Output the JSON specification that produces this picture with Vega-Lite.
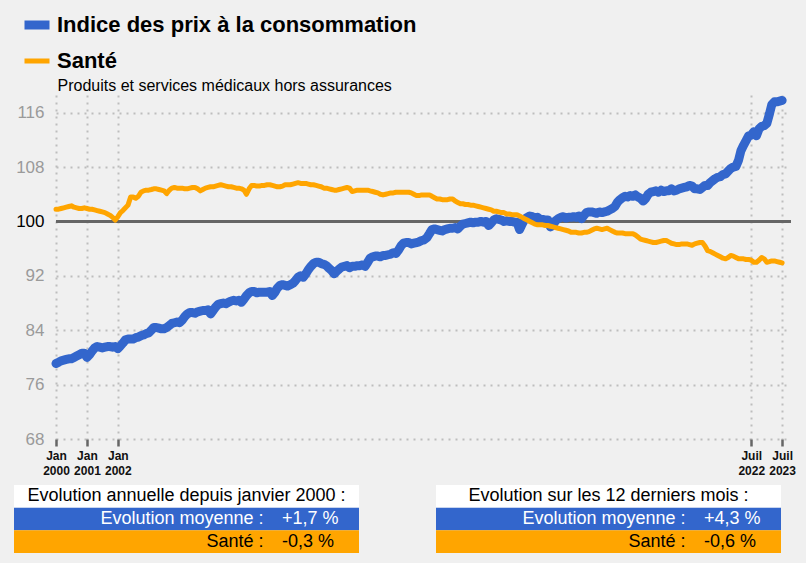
{
"$schema": "https://vega.github.io/schema/vega-lite/v6.json",
"background": "#f0f0f0",
"padding": {"left": 14, "top": 8, "right": 11, "bottom": 10},
"config": {
  "view": {"stroke": null},
  "font": "Liberation Sans",
  "legend": {"orient": "none", "legendX": 6, "legendY": -87, "padding": 0, "labelFontSize": 22, "labelFontWeight": "bold", "labelColor": "#000000", "labelFont": "Liberation Sans", "symbolType": "stroke", "symbolSize": 625, "rowPadding": 3, "labelOffset": 3, "labelLimit": 0}
},
"datasets": {
"series": [
{"d":"2000-01","s":"cpi","v":79.1},{"d":"2000-02","s":"cpi","v":79.3},{"d":"2000-03","s":"cpi","v":79.5},{"d":"2000-04","s":"cpi","v":79.6},{"d":"2000-05","s":"cpi","v":79.7},{"d":"2000-06","s":"cpi","v":79.8},{"d":"2000-07","s":"cpi","v":79.8},{"d":"2000-08","s":"cpi","v":80.0},{"d":"2000-09","s":"cpi","v":80.2},{"d":"2000-10","s":"cpi","v":80.4},{"d":"2000-11","s":"cpi","v":80.6},{"d":"2000-12","s":"cpi","v":80.6},
{"d":"2001-01","s":"cpi","v":80.0},{"d":"2001-02","s":"cpi","v":80.4},{"d":"2001-03","s":"cpi","v":80.9},{"d":"2001-04","s":"cpi","v":81.4},{"d":"2001-05","s":"cpi","v":81.6},{"d":"2001-06","s":"cpi","v":81.5},{"d":"2001-07","s":"cpi","v":81.4},{"d":"2001-08","s":"cpi","v":81.5},{"d":"2001-09","s":"cpi","v":81.6},{"d":"2001-10","s":"cpi","v":81.6},{"d":"2001-11","s":"cpi","v":81.5},{"d":"2001-12","s":"cpi","v":81.6},
{"d":"2002-01","s":"cpi","v":81.3},{"d":"2002-02","s":"cpi","v":81.7},{"d":"2002-03","s":"cpi","v":82.1},{"d":"2002-04","s":"cpi","v":82.6},{"d":"2002-05","s":"cpi","v":82.7},{"d":"2002-06","s":"cpi","v":82.7},{"d":"2002-07","s":"cpi","v":82.7},{"d":"2002-08","s":"cpi","v":82.9},{"d":"2002-09","s":"cpi","v":83.0},{"d":"2002-10","s":"cpi","v":83.2},{"d":"2002-11","s":"cpi","v":83.3},{"d":"2002-12","s":"cpi","v":83.5},
{"d":"2003-01","s":"cpi","v":83.6},{"d":"2003-02","s":"cpi","v":84.0},{"d":"2003-03","s":"cpi","v":84.4},{"d":"2003-04","s":"cpi","v":84.4},{"d":"2003-05","s":"cpi","v":84.3},{"d":"2003-06","s":"cpi","v":84.2},{"d":"2003-07","s":"cpi","v":84.2},{"d":"2003-08","s":"cpi","v":84.4},{"d":"2003-09","s":"cpi","v":84.7},{"d":"2003-10","s":"cpi","v":85.0},{"d":"2003-11","s":"cpi","v":85.1},{"d":"2003-12","s":"cpi","v":85.2},
{"d":"2004-01","s":"cpi","v":85.1},{"d":"2004-02","s":"cpi","v":85.5},{"d":"2004-03","s":"cpi","v":86.0},{"d":"2004-04","s":"cpi","v":86.4},{"d":"2004-05","s":"cpi","v":86.6},{"d":"2004-06","s":"cpi","v":86.6},{"d":"2004-07","s":"cpi","v":86.5},{"d":"2004-08","s":"cpi","v":86.7},{"d":"2004-09","s":"cpi","v":86.8},{"d":"2004-10","s":"cpi","v":86.9},{"d":"2004-11","s":"cpi","v":86.9},{"d":"2004-12","s":"cpi","v":87.0},
{"d":"2005-01","s":"cpi","v":86.4},{"d":"2005-02","s":"cpi","v":86.9},{"d":"2005-03","s":"cpi","v":87.4},{"d":"2005-04","s":"cpi","v":87.8},{"d":"2005-05","s":"cpi","v":87.9},{"d":"2005-06","s":"cpi","v":88.0},{"d":"2005-07","s":"cpi","v":87.9},{"d":"2005-08","s":"cpi","v":88.1},{"d":"2005-09","s":"cpi","v":88.3},{"d":"2005-10","s":"cpi","v":88.4},{"d":"2005-11","s":"cpi","v":88.3},{"d":"2005-12","s":"cpi","v":88.4},
{"d":"2006-01","s":"cpi","v":88.1},{"d":"2006-02","s":"cpi","v":88.6},{"d":"2006-03","s":"cpi","v":89.1},{"d":"2006-04","s":"cpi","v":89.5},{"d":"2006-05","s":"cpi","v":89.7},{"d":"2006-06","s":"cpi","v":89.7},{"d":"2006-07","s":"cpi","v":89.5},{"d":"2006-08","s":"cpi","v":89.6},{"d":"2006-09","s":"cpi","v":89.6},{"d":"2006-10","s":"cpi","v":89.6},{"d":"2006-11","s":"cpi","v":89.6},{"d":"2006-12","s":"cpi","v":89.7},
{"d":"2007-01","s":"cpi","v":89.1},{"d":"2007-02","s":"cpi","v":89.6},{"d":"2007-03","s":"cpi","v":90.2},{"d":"2007-04","s":"cpi","v":90.6},{"d":"2007-05","s":"cpi","v":90.7},{"d":"2007-06","s":"cpi","v":90.6},{"d":"2007-07","s":"cpi","v":90.5},{"d":"2007-08","s":"cpi","v":90.7},{"d":"2007-09","s":"cpi","v":90.9},{"d":"2007-10","s":"cpi","v":91.3},{"d":"2007-11","s":"cpi","v":91.8},{"d":"2007-12","s":"cpi","v":92.0},
{"d":"2008-01","s":"cpi","v":91.8},{"d":"2008-02","s":"cpi","v":92.3},{"d":"2008-03","s":"cpi","v":92.9},{"d":"2008-04","s":"cpi","v":93.4},{"d":"2008-05","s":"cpi","v":93.8},{"d":"2008-06","s":"cpi","v":94.0},{"d":"2008-07","s":"cpi","v":94.0},{"d":"2008-08","s":"cpi","v":93.8},{"d":"2008-09","s":"cpi","v":93.7},{"d":"2008-10","s":"cpi","v":93.5},{"d":"2008-11","s":"cpi","v":93.1},{"d":"2008-12","s":"cpi","v":92.8},
{"d":"2009-01","s":"cpi","v":92.3},{"d":"2009-02","s":"cpi","v":92.7},{"d":"2009-03","s":"cpi","v":93.0},{"d":"2009-04","s":"cpi","v":93.3},{"d":"2009-05","s":"cpi","v":93.4},{"d":"2009-06","s":"cpi","v":93.5},{"d":"2009-07","s":"cpi","v":93.2},{"d":"2009-08","s":"cpi","v":93.4},{"d":"2009-09","s":"cpi","v":93.4},{"d":"2009-10","s":"cpi","v":93.5},{"d":"2009-11","s":"cpi","v":93.5},{"d":"2009-12","s":"cpi","v":93.6},
{"d":"2010-01","s":"cpi","v":93.4},{"d":"2010-02","s":"cpi","v":94.0},{"d":"2010-03","s":"cpi","v":94.6},{"d":"2010-04","s":"cpi","v":94.8},{"d":"2010-05","s":"cpi","v":94.9},{"d":"2010-06","s":"cpi","v":94.9},{"d":"2010-07","s":"cpi","v":94.8},{"d":"2010-08","s":"cpi","v":95.0},{"d":"2010-09","s":"cpi","v":95.0},{"d":"2010-10","s":"cpi","v":95.1},{"d":"2010-11","s":"cpi","v":95.2},{"d":"2010-12","s":"cpi","v":95.4},
{"d":"2011-01","s":"cpi","v":95.3},{"d":"2011-02","s":"cpi","v":95.8},{"d":"2011-03","s":"cpi","v":96.4},{"d":"2011-04","s":"cpi","v":96.8},{"d":"2011-05","s":"cpi","v":96.9},{"d":"2011-06","s":"cpi","v":96.9},{"d":"2011-07","s":"cpi","v":96.7},{"d":"2011-08","s":"cpi","v":96.8},{"d":"2011-09","s":"cpi","v":96.9},{"d":"2011-10","s":"cpi","v":97.0},{"d":"2011-11","s":"cpi","v":97.2},{"d":"2011-12","s":"cpi","v":97.3},
{"d":"2012-01","s":"cpi","v":97.6},{"d":"2012-02","s":"cpi","v":98.2},{"d":"2012-03","s":"cpi","v":98.8},{"d":"2012-04","s":"cpi","v":98.9},{"d":"2012-05","s":"cpi","v":98.8},{"d":"2012-06","s":"cpi","v":98.7},{"d":"2012-07","s":"cpi","v":98.6},{"d":"2012-08","s":"cpi","v":98.8},{"d":"2012-09","s":"cpi","v":98.9},{"d":"2012-10","s":"cpi","v":99.0},{"d":"2012-11","s":"cpi","v":99.0},{"d":"2012-12","s":"cpi","v":99.1},
{"d":"2013-01","s":"cpi","v":98.9},{"d":"2013-02","s":"cpi","v":99.3},{"d":"2013-03","s":"cpi","v":99.6},{"d":"2013-04","s":"cpi","v":99.7},{"d":"2013-05","s":"cpi","v":99.8},{"d":"2013-06","s":"cpi","v":99.9},{"d":"2013-07","s":"cpi","v":99.8},{"d":"2013-08","s":"cpi","v":99.9},{"d":"2013-09","s":"cpi","v":99.9},{"d":"2013-10","s":"cpi","v":100.0},{"d":"2013-11","s":"cpi","v":99.9},{"d":"2013-12","s":"cpi","v":100.0},
{"d":"2014-01","s":"cpi","v":99.4},{"d":"2014-02","s":"cpi","v":99.8},{"d":"2014-03","s":"cpi","v":100.2},{"d":"2014-04","s":"cpi","v":100.4},{"d":"2014-05","s":"cpi","v":100.3},{"d":"2014-06","s":"cpi","v":100.2},{"d":"2014-07","s":"cpi","v":100.0},{"d":"2014-08","s":"cpi","v":100.1},{"d":"2014-09","s":"cpi","v":100.0},{"d":"2014-10","s":"cpi","v":100.0},{"d":"2014-11","s":"cpi","v":99.9},{"d":"2014-12","s":"cpi","v":99.9},
{"d":"2015-01","s":"cpi","v":98.8},{"d":"2015-02","s":"cpi","v":99.6},{"d":"2015-03","s":"cpi","v":100.3},{"d":"2015-04","s":"cpi","v":100.6},{"d":"2015-05","s":"cpi","v":100.8},{"d":"2015-06","s":"cpi","v":100.7},{"d":"2015-07","s":"cpi","v":100.5},{"d":"2015-08","s":"cpi","v":100.6},{"d":"2015-09","s":"cpi","v":100.3},{"d":"2015-10","s":"cpi","v":100.3},{"d":"2015-11","s":"cpi","v":100.2},{"d":"2015-12","s":"cpi","v":100.2},
{"d":"2016-01","s":"cpi","v":99.2},{"d":"2016-02","s":"cpi","v":99.5},{"d":"2016-03","s":"cpi","v":100.1},{"d":"2016-04","s":"cpi","v":100.4},{"d":"2016-05","s":"cpi","v":100.6},{"d":"2016-06","s":"cpi","v":100.7},{"d":"2016-07","s":"cpi","v":100.5},{"d":"2016-08","s":"cpi","v":100.6},{"d":"2016-09","s":"cpi","v":100.6},{"d":"2016-10","s":"cpi","v":100.7},{"d":"2016-11","s":"cpi","v":100.6},{"d":"2016-12","s":"cpi","v":100.8},
{"d":"2017-01","s":"cpi","v":100.4},{"d":"2017-02","s":"cpi","v":100.9},{"d":"2017-03","s":"cpi","v":101.3},{"d":"2017-04","s":"cpi","v":101.4},{"d":"2017-05","s":"cpi","v":101.4},{"d":"2017-06","s":"cpi","v":101.3},{"d":"2017-07","s":"cpi","v":101.2},{"d":"2017-08","s":"cpi","v":101.4},{"d":"2017-09","s":"cpi","v":101.3},{"d":"2017-10","s":"cpi","v":101.4},{"d":"2017-11","s":"cpi","v":101.5},{"d":"2017-12","s":"cpi","v":101.7},
{"d":"2018-01","s":"cpi","v":101.9},{"d":"2018-02","s":"cpi","v":102.2},{"d":"2018-03","s":"cpi","v":102.8},{"d":"2018-04","s":"cpi","v":103.2},{"d":"2018-05","s":"cpi","v":103.5},{"d":"2018-06","s":"cpi","v":103.7},{"d":"2018-07","s":"cpi","v":103.6},{"d":"2018-08","s":"cpi","v":103.8},{"d":"2018-09","s":"cpi","v":103.7},{"d":"2018-10","s":"cpi","v":103.9},{"d":"2018-11","s":"cpi","v":103.6},{"d":"2018-12","s":"cpi","v":103.4},
{"d":"2019-01","s":"cpi","v":103.0},{"d":"2019-02","s":"cpi","v":103.4},{"d":"2019-03","s":"cpi","v":104.0},{"d":"2019-04","s":"cpi","v":104.3},{"d":"2019-05","s":"cpi","v":104.4},{"d":"2019-06","s":"cpi","v":104.5},{"d":"2019-07","s":"cpi","v":104.3},{"d":"2019-08","s":"cpi","v":104.6},{"d":"2019-09","s":"cpi","v":104.4},{"d":"2019-10","s":"cpi","v":104.5},{"d":"2019-11","s":"cpi","v":104.5},{"d":"2019-12","s":"cpi","v":104.8},
{"d":"2020-01","s":"cpi","v":104.5},{"d":"2020-02","s":"cpi","v":104.6},{"d":"2020-03","s":"cpi","v":104.8},{"d":"2020-04","s":"cpi","v":104.9},{"d":"2020-05","s":"cpi","v":105.0},{"d":"2020-06","s":"cpi","v":105.1},{"d":"2020-07","s":"cpi","v":105.3},{"d":"2020-08","s":"cpi","v":105.2},{"d":"2020-09","s":"cpi","v":104.8},{"d":"2020-10","s":"cpi","v":104.8},{"d":"2020-11","s":"cpi","v":104.7},{"d":"2020-12","s":"cpi","v":105.0},
{"d":"2021-01","s":"cpi","v":105.3},{"d":"2021-02","s":"cpi","v":105.3},{"d":"2021-03","s":"cpi","v":105.7},{"d":"2021-04","s":"cpi","v":106.0},{"d":"2021-05","s":"cpi","v":106.3},{"d":"2021-06","s":"cpi","v":106.5},{"d":"2021-07","s":"cpi","v":106.6},{"d":"2021-08","s":"cpi","v":106.9},{"d":"2021-09","s":"cpi","v":107.0},{"d":"2021-10","s":"cpi","v":107.4},{"d":"2021-11","s":"cpi","v":107.8},{"d":"2021-12","s":"cpi","v":108.0},
{"d":"2022-01","s":"cpi","v":108.1},{"d":"2022-02","s":"cpi","v":109.0},{"d":"2022-03","s":"cpi","v":110.4},{"d":"2022-04","s":"cpi","v":111.2},{"d":"2022-05","s":"cpi","v":111.9},{"d":"2022-06","s":"cpi","v":112.6},{"d":"2022-07","s":"cpi","v":112.7},{"d":"2022-08","s":"cpi","v":113.2},{"d":"2022-09","s":"cpi","v":112.6},{"d":"2022-10","s":"cpi","v":113.6},{"d":"2022-11","s":"cpi","v":114.0},{"d":"2022-12","s":"cpi","v":114.1},
{"d":"2023-01","s":"cpi","v":114.4},{"d":"2023-02","s":"cpi","v":115.8},{"d":"2023-03","s":"cpi","v":117.2},{"d":"2023-04","s":"cpi","v":117.6},{"d":"2023-05","s":"cpi","v":117.6},{"d":"2023-06","s":"cpi","v":117.7},{"d":"2023-07","s":"cpi","v":117.8},
{"d":"2000-01","s":"sante","v":101.8},{"d":"2000-02","s":"sante","v":101.8},{"d":"2000-03","s":"sante","v":101.9},{"d":"2000-04","s":"sante","v":102.0},{"d":"2000-05","s":"sante","v":102.1},{"d":"2000-06","s":"sante","v":102.2},{"d":"2000-07","s":"sante","v":102.3},{"d":"2000-08","s":"sante","v":102.1},{"d":"2000-09","s":"sante","v":102.0},{"d":"2000-10","s":"sante","v":101.9},{"d":"2000-11","s":"sante","v":101.9},{"d":"2000-12","s":"sante","v":102.0},
{"d":"2001-01","s":"sante","v":101.9},{"d":"2001-02","s":"sante","v":101.8},{"d":"2001-03","s":"sante","v":101.8},{"d":"2001-04","s":"sante","v":101.7},{"d":"2001-05","s":"sante","v":101.6},{"d":"2001-06","s":"sante","v":101.5},{"d":"2001-07","s":"sante","v":101.4},{"d":"2001-08","s":"sante","v":101.3},{"d":"2001-09","s":"sante","v":101.1},{"d":"2001-10","s":"sante","v":100.9},{"d":"2001-11","s":"sante","v":100.6},{"d":"2001-12","s":"sante","v":100.2},
{"d":"2002-01","s":"sante","v":100.7},{"d":"2002-02","s":"sante","v":101.3},{"d":"2002-03","s":"sante","v":101.6},{"d":"2002-04","s":"sante","v":102.0},{"d":"2002-05","s":"sante","v":102.4},{"d":"2002-06","s":"sante","v":103.6},{"d":"2002-07","s":"sante","v":103.6},{"d":"2002-08","s":"sante","v":103.4},{"d":"2002-09","s":"sante","v":103.7},{"d":"2002-10","s":"sante","v":104.3},{"d":"2002-11","s":"sante","v":104.5},{"d":"2002-12","s":"sante","v":104.6},
{"d":"2003-01","s":"sante","v":104.6},{"d":"2003-02","s":"sante","v":104.7},{"d":"2003-03","s":"sante","v":104.8},{"d":"2003-04","s":"sante","v":104.8},{"d":"2003-05","s":"sante","v":104.7},{"d":"2003-06","s":"sante","v":104.6},{"d":"2003-07","s":"sante","v":104.5},{"d":"2003-08","s":"sante","v":104.1},{"d":"2003-09","s":"sante","v":104.6},{"d":"2003-10","s":"sante","v":104.9},{"d":"2003-11","s":"sante","v":105.0},{"d":"2003-12","s":"sante","v":104.9},
{"d":"2004-01","s":"sante","v":104.9},{"d":"2004-02","s":"sante","v":104.9},{"d":"2004-03","s":"sante","v":104.8},{"d":"2004-04","s":"sante","v":104.8},{"d":"2004-05","s":"sante","v":104.9},{"d":"2004-06","s":"sante","v":105.0},{"d":"2004-07","s":"sante","v":105.0},{"d":"2004-08","s":"sante","v":104.8},{"d":"2004-09","s":"sante","v":104.5},{"d":"2004-10","s":"sante","v":104.7},{"d":"2004-11","s":"sante","v":104.9},{"d":"2004-12","s":"sante","v":105.0},
{"d":"2005-01","s":"sante","v":105.1},{"d":"2005-02","s":"sante","v":105.1},{"d":"2005-03","s":"sante","v":105.2},{"d":"2005-04","s":"sante","v":105.3},{"d":"2005-05","s":"sante","v":105.4},{"d":"2005-06","s":"sante","v":105.3},{"d":"2005-07","s":"sante","v":105.2},{"d":"2005-08","s":"sante","v":105.1},{"d":"2005-09","s":"sante","v":105.1},{"d":"2005-10","s":"sante","v":105.0},{"d":"2005-11","s":"sante","v":104.9},{"d":"2005-12","s":"sante","v":104.9},
{"d":"2006-01","s":"sante","v":104.8},{"d":"2006-02","s":"sante","v":104.6},{"d":"2006-03","s":"sante","v":104.0},{"d":"2006-04","s":"sante","v":104.8},{"d":"2006-05","s":"sante","v":105.3},{"d":"2006-06","s":"sante","v":105.3},{"d":"2006-07","s":"sante","v":105.2},{"d":"2006-08","s":"sante","v":105.2},{"d":"2006-09","s":"sante","v":105.3},{"d":"2006-10","s":"sante","v":105.3},{"d":"2006-11","s":"sante","v":105.4},{"d":"2006-12","s":"sante","v":105.4},
{"d":"2007-01","s":"sante","v":105.3},{"d":"2007-02","s":"sante","v":105.2},{"d":"2007-03","s":"sante","v":105.1},{"d":"2007-04","s":"sante","v":105.1},{"d":"2007-05","s":"sante","v":105.2},{"d":"2007-06","s":"sante","v":105.4},{"d":"2007-07","s":"sante","v":105.4},{"d":"2007-08","s":"sante","v":105.4},{"d":"2007-09","s":"sante","v":105.5},{"d":"2007-10","s":"sante","v":105.6},{"d":"2007-11","s":"sante","v":105.7},{"d":"2007-12","s":"sante","v":105.6},
{"d":"2008-01","s":"sante","v":105.6},{"d":"2008-02","s":"sante","v":105.6},{"d":"2008-03","s":"sante","v":105.5},{"d":"2008-04","s":"sante","v":105.4},{"d":"2008-05","s":"sante","v":105.4},{"d":"2008-06","s":"sante","v":105.3},{"d":"2008-07","s":"sante","v":105.2},{"d":"2008-08","s":"sante","v":105.1},{"d":"2008-09","s":"sante","v":104.9},{"d":"2008-10","s":"sante","v":104.9},{"d":"2008-11","s":"sante","v":104.8},{"d":"2008-12","s":"sante","v":104.7},
{"d":"2009-01","s":"sante","v":104.6},{"d":"2009-02","s":"sante","v":104.6},{"d":"2009-03","s":"sante","v":104.7},{"d":"2009-04","s":"sante","v":104.8},{"d":"2009-05","s":"sante","v":104.9},{"d":"2009-06","s":"sante","v":105.0},{"d":"2009-07","s":"sante","v":104.9},{"d":"2009-08","s":"sante","v":104.4},{"d":"2009-09","s":"sante","v":104.5},{"d":"2009-10","s":"sante","v":104.6},{"d":"2009-11","s":"sante","v":104.6},{"d":"2009-12","s":"sante","v":104.6},
{"d":"2010-01","s":"sante","v":104.6},{"d":"2010-02","s":"sante","v":104.6},{"d":"2010-03","s":"sante","v":104.5},{"d":"2010-04","s":"sante","v":104.4},{"d":"2010-05","s":"sante","v":104.3},{"d":"2010-06","s":"sante","v":104.2},{"d":"2010-07","s":"sante","v":104.0},{"d":"2010-08","s":"sante","v":103.9},{"d":"2010-09","s":"sante","v":104.0},{"d":"2010-10","s":"sante","v":104.1},{"d":"2010-11","s":"sante","v":104.2},{"d":"2010-12","s":"sante","v":104.2},
{"d":"2011-01","s":"sante","v":104.3},{"d":"2011-02","s":"sante","v":104.3},{"d":"2011-03","s":"sante","v":104.3},{"d":"2011-04","s":"sante","v":104.3},{"d":"2011-05","s":"sante","v":104.3},{"d":"2011-06","s":"sante","v":104.3},{"d":"2011-07","s":"sante","v":104.2},{"d":"2011-08","s":"sante","v":104.0},{"d":"2011-09","s":"sante","v":103.8},{"d":"2011-10","s":"sante","v":103.8},{"d":"2011-11","s":"sante","v":103.9},{"d":"2011-12","s":"sante","v":103.9},
{"d":"2012-01","s":"sante","v":103.9},{"d":"2012-02","s":"sante","v":103.9},{"d":"2012-03","s":"sante","v":103.7},{"d":"2012-04","s":"sante","v":103.5},{"d":"2012-05","s":"sante","v":103.3},{"d":"2012-06","s":"sante","v":103.3},{"d":"2012-07","s":"sante","v":103.2},{"d":"2012-08","s":"sante","v":103.2},{"d":"2012-09","s":"sante","v":103.2},{"d":"2012-10","s":"sante","v":103.3},{"d":"2012-11","s":"sante","v":103.3},{"d":"2012-12","s":"sante","v":103.0},
{"d":"2013-01","s":"sante","v":102.8},{"d":"2013-02","s":"sante","v":102.6},{"d":"2013-03","s":"sante","v":102.6},{"d":"2013-04","s":"sante","v":102.5},{"d":"2013-05","s":"sante","v":102.5},{"d":"2013-06","s":"sante","v":102.4},{"d":"2013-07","s":"sante","v":102.4},{"d":"2013-08","s":"sante","v":102.3},{"d":"2013-09","s":"sante","v":102.2},{"d":"2013-10","s":"sante","v":102.1},{"d":"2013-11","s":"sante","v":102.0},{"d":"2013-12","s":"sante","v":101.9},
{"d":"2014-01","s":"sante","v":101.8},{"d":"2014-02","s":"sante","v":101.7},{"d":"2014-03","s":"sante","v":101.5},{"d":"2014-04","s":"sante","v":101.5},{"d":"2014-05","s":"sante","v":101.4},{"d":"2014-06","s":"sante","v":101.3},{"d":"2014-07","s":"sante","v":101.3},{"d":"2014-08","s":"sante","v":101.1},{"d":"2014-09","s":"sante","v":101.1},{"d":"2014-10","s":"sante","v":101.0},{"d":"2014-11","s":"sante","v":101.0},{"d":"2014-12","s":"sante","v":101.0},
{"d":"2015-01","s":"sante","v":100.8},{"d":"2015-02","s":"sante","v":100.6},{"d":"2015-03","s":"sante","v":100.4},{"d":"2015-04","s":"sante","v":100.2},{"d":"2015-05","s":"sante","v":100.0},{"d":"2015-06","s":"sante","v":99.8},{"d":"2015-07","s":"sante","v":99.6},{"d":"2015-08","s":"sante","v":99.5},{"d":"2015-09","s":"sante","v":99.5},{"d":"2015-10","s":"sante","v":99.5},{"d":"2015-11","s":"sante","v":99.4},{"d":"2015-12","s":"sante","v":99.4},
{"d":"2016-01","s":"sante","v":99.3},{"d":"2016-02","s":"sante","v":99.2},{"d":"2016-03","s":"sante","v":99.1},{"d":"2016-04","s":"sante","v":99.0},{"d":"2016-05","s":"sante","v":98.9},{"d":"2016-06","s":"sante","v":98.8},{"d":"2016-07","s":"sante","v":98.7},{"d":"2016-08","s":"sante","v":98.6},{"d":"2016-09","s":"sante","v":98.4},{"d":"2016-10","s":"sante","v":98.4},{"d":"2016-11","s":"sante","v":98.4},{"d":"2016-12","s":"sante","v":98.3},
{"d":"2017-01","s":"sante","v":98.3},{"d":"2017-02","s":"sante","v":98.4},{"d":"2017-03","s":"sante","v":98.4},{"d":"2017-04","s":"sante","v":98.5},{"d":"2017-05","s":"sante","v":98.7},{"d":"2017-06","s":"sante","v":98.9},{"d":"2017-07","s":"sante","v":99.0},{"d":"2017-08","s":"sante","v":98.9},{"d":"2017-09","s":"sante","v":98.8},{"d":"2017-10","s":"sante","v":98.9},{"d":"2017-11","s":"sante","v":99.0},{"d":"2017-12","s":"sante","v":98.8},
{"d":"2018-01","s":"sante","v":98.6},{"d":"2018-02","s":"sante","v":98.4},{"d":"2018-03","s":"sante","v":98.3},{"d":"2018-04","s":"sante","v":98.3},{"d":"2018-05","s":"sante","v":98.3},{"d":"2018-06","s":"sante","v":98.2},{"d":"2018-07","s":"sante","v":98.2},{"d":"2018-08","s":"sante","v":98.2},{"d":"2018-09","s":"sante","v":98.2},{"d":"2018-10","s":"sante","v":98.0},{"d":"2018-11","s":"sante","v":97.7},{"d":"2018-12","s":"sante","v":97.4},
{"d":"2019-01","s":"sante","v":97.3},{"d":"2019-02","s":"sante","v":97.2},{"d":"2019-03","s":"sante","v":97.1},{"d":"2019-04","s":"sante","v":97.0},{"d":"2019-05","s":"sante","v":96.9},{"d":"2019-06","s":"sante","v":96.9},{"d":"2019-07","s":"sante","v":97.0},{"d":"2019-08","s":"sante","v":97.1},{"d":"2019-09","s":"sante","v":97.2},{"d":"2019-10","s":"sante","v":97.2},{"d":"2019-11","s":"sante","v":97.0},{"d":"2019-12","s":"sante","v":96.8},
{"d":"2020-01","s":"sante","v":96.7},{"d":"2020-02","s":"sante","v":96.6},{"d":"2020-03","s":"sante","v":96.6},{"d":"2020-04","s":"sante","v":96.7},{"d":"2020-05","s":"sante","v":96.7},{"d":"2020-06","s":"sante","v":96.7},{"d":"2020-07","s":"sante","v":96.6},{"d":"2020-08","s":"sante","v":96.5},{"d":"2020-09","s":"sante","v":96.7},{"d":"2020-10","s":"sante","v":96.8},{"d":"2020-11","s":"sante","v":96.9},{"d":"2020-12","s":"sante","v":96.9},
{"d":"2021-01","s":"sante","v":96.4},{"d":"2021-02","s":"sante","v":95.7},{"d":"2021-03","s":"sante","v":95.6},{"d":"2021-04","s":"sante","v":95.4},{"d":"2021-05","s":"sante","v":95.2},{"d":"2021-06","s":"sante","v":95.0},{"d":"2021-07","s":"sante","v":94.8},{"d":"2021-08","s":"sante","v":94.6},{"d":"2021-09","s":"sante","v":94.5},{"d":"2021-10","s":"sante","v":94.7},{"d":"2021-11","s":"sante","v":95.0},{"d":"2021-12","s":"sante","v":94.9},
{"d":"2022-01","s":"sante","v":94.7},{"d":"2022-02","s":"sante","v":94.5},{"d":"2022-03","s":"sante","v":94.5},{"d":"2022-04","s":"sante","v":94.5},{"d":"2022-05","s":"sante","v":94.4},{"d":"2022-06","s":"sante","v":94.4},{"d":"2022-07","s":"sante","v":94.3},{"d":"2022-08","s":"sante","v":94.0},{"d":"2022-09","s":"sante","v":94.0},{"d":"2022-10","s":"sante","v":94.3},{"d":"2022-11","s":"sante","v":94.7},{"d":"2022-12","s":"sante","v":94.5},
{"d":"2023-01","s":"sante","v":94.0},{"d":"2023-02","s":"sante","v":94.1},{"d":"2023-03","s":"sante","v":94.2},{"d":"2023-04","s":"sante","v":94.2},{"d":"2023-05","s":"sante","v":94.1},{"d":"2023-06","s":"sante","v":94.0},{"d":"2023-07","s":"sante","v":93.9}
],
"left": [
{"r":"a","label":"Evolution annuelle depuis janvier 2000 :","val":""},
{"r":"b","label":"Evolution moyenne :","val":"+1,7 %"},
{"r":"c","label":"Santé :","val":"-0,3 %"}
],
"right": [
{"r":"a","label":"Evolution sur les 12 derniers mois :","val":""},
{"r":"b","label":"Evolution moyenne :","val":"+4,3 %"},
{"r":"c","label":"Santé :","val":"-0,6 %"}
]
},
"spacing": 9,
"vconcat": [
{
  "spacing": 0,
  "hconcat": [
{
  "width": 1,
  "height": 344,
  "data": {"values": []},
  "mark": "point"
},
{
  "width": 735,
  "height": 344,
  "layer": [
    {
      "data": {"values": [{}]},
      "mark": {"type": "rule", "color": "#666666", "strokeWidth": 3},
      "encoding": {"y": {"datum": 100, "type": "quantitative"}}
    },
    {
      "data": {"name": "series"},
      "transform": [{"filter": "datum.s == 'cpi'"}],
      "mark": {"type": "line", "strokeCap": "round", "strokeJoin": "round"},
      "encoding": {
        "x": {"field": "d", "type": "temporal",
          "scale": {"type": "utc", "nice": false, "domain": [{"year": 2000, "month": 1, "date": 1, "utc": true}, {"year": 2023, "month": 10, "date": 14, "utc": true}]},
          "axis": {"title": null, "domain": false,
            "values": [{"year": 2000, "month": 1, "date": 1, "utc": true}, {"year": 2001, "month": 1, "date": 1, "utc": true}, {"year": 2002, "month": 1, "date": 1, "utc": true}, {"year": 2022, "month": 7, "date": 1, "utc": true}, {"year": 2023, "month": 7, "date": 1, "utc": true}],
            "labelExpr": "[utcFormat(datum.value, '%m') == '01' ? 'Jan' : 'Juil', utcFormat(datum.value, '%Y')]",
            "labelFontSize": 12, "labelFontWeight": "bold", "labelColor": "#111111", "labelLineHeight": 15, "labelPadding": 4,
            "labelFlush": false, "labelOverlap": false,
            "tickSize": 7, "tickColor": "#666666", "tickWidth": 2.5,
            "grid": true, "gridColor": "#bdbdbd", "gridDash": [2, 5], "gridWidth": 2}},
        "y": {"field": "v", "type": "quantitative",
          "scale": {"domain": [68, 118.6], "nice": false, "zero": false},
          "axis": {"values": [68, 76, 84, 92, 100, 108, 116], "domain": false, "ticks": false, "tickSize": 0, "labelPadding": 12,
            "labelFontSize": 17,
            "labelColor": {"condition": {"test": "datum.value == 100", "value": "#000000"}, "value": "#9a9a9a"},
            "grid": true, "gridColor": "#bdbdbd", "gridDash": [2, 5], "gridWidth": 2,
            "title": "Produits et services médicaux hors assurances", "titleAngle": 0, "titleAlign": "left", "titleBaseline": "middle",
            "titleX": 1, "titleY": -10, "titleFontSize": 16, "titleFontWeight": "normal", "titleColor": "#000000",
            "minExtent": 40, "maxExtent": 40}},
        "color": {"field": "s", "type": "ordinal", "scale": {"domain": ["cpi", "sante"], "range": ["#3366cc", "#ffa500"]},
          "legend": {"title": null, "labelExpr": "datum.label == 'cpi' ? 'Indice des prix à la consommation' : 'Santé'"}},
        "strokeWidth": {"field": "s", "type": "ordinal", "scale": {"domain": ["cpi", "sante"], "range": [9, 5]},
          "legend": {"title": null, "labelExpr": "datum.label == 'cpi' ? 'Indice des prix à la consommation' : 'Santé'"}}
      }
    },
    {
      "data": {"name": "series"},
      "transform": [{"filter": "datum.s == 'sante'"}],
      "mark": {"type": "line", "strokeCap": "round", "strokeJoin": "round"},
      "encoding": {
        "x": {"field": "d", "type": "temporal"},
        "y": {"field": "v", "type": "quantitative"},
        "color": {"field": "s", "type": "ordinal"},
        "strokeWidth": {"field": "s", "type": "ordinal"}
      }
    }
  ]
}
  ]
},
{
  "spacing": 77,
  "hconcat": [
    {
      "width": 345, "height": 68,
      "data": {"name": "left"},
      "encoding": {"y": {"field": "r", "type": "nominal", "scale": {"domain": ["a", "b", "c"], "paddingInner": 0, "paddingOuter": 0}, "axis": null}},
      "layer": [
        {"mark": {"type": "rect"}, "encoding": {"color": {"condition": [{"test": "datum.r == 'a'", "value": "#ffffff"}, {"test": "datum.r == 'b'", "value": "#3366cc"}], "value": "#ffa500"}}},
        {"transform": [{"filter": "datum.r == 'a'"}], "mark": {"type": "text", "fontSize": 18, "align": "center", "color": "#000000"}, "encoding": {"text": {"field": "label"}}},
        {"transform": [{"filter": "datum.r != 'a'"}], "mark": {"type": "text", "fontSize": 18, "align": "right", "dx": 77}, "encoding": {"text": {"field": "label"}, "color": {"condition": {"test": "datum.r == 'b'", "value": "#ffffff"}, "value": "#000000"}}},
        {"transform": [{"filter": "datum.r != 'a'"}], "mark": {"type": "text", "fontSize": 18, "align": "left", "dx": 95.5}, "encoding": {"text": {"field": "val"}, "color": {"condition": {"test": "datum.r == 'b'", "value": "#ffffff"}, "value": "#000000"}}}
      ]
    },
    {
      "width": 345, "height": 68,
      "data": {"name": "right"},
      "encoding": {"y": {"field": "r", "type": "nominal", "scale": {"domain": ["a", "b", "c"], "paddingInner": 0, "paddingOuter": 0}, "axis": null}},
      "layer": [
        {"mark": {"type": "rect"}, "encoding": {"color": {"condition": [{"test": "datum.r == 'a'", "value": "#ffffff"}, {"test": "datum.r == 'b'", "value": "#3366cc"}], "value": "#ffa500"}}},
        {"transform": [{"filter": "datum.r == 'a'"}], "mark": {"type": "text", "fontSize": 18, "align": "center", "color": "#000000"}, "encoding": {"text": {"field": "label"}}},
        {"transform": [{"filter": "datum.r != 'a'"}], "mark": {"type": "text", "fontSize": 18, "align": "right", "dx": 77}, "encoding": {"text": {"field": "label"}, "color": {"condition": {"test": "datum.r == 'b'", "value": "#ffffff"}, "value": "#000000"}}},
        {"transform": [{"filter": "datum.r != 'a'"}], "mark": {"type": "text", "fontSize": 18, "align": "left", "dx": 95.5}, "encoding": {"text": {"field": "val"}, "color": {"condition": {"test": "datum.r == 'b'", "value": "#ffffff"}, "value": "#000000"}}}
      ]
    }
  ]
}
]
}
